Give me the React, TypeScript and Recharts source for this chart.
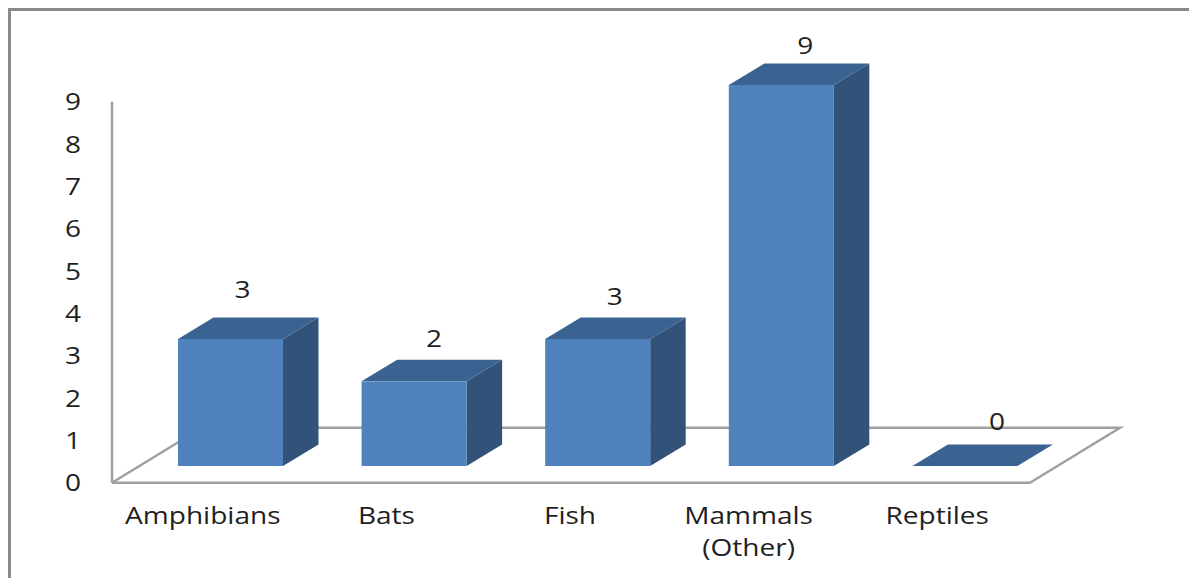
import React from 'react';
import { BarChart, Bar, XAxis, YAxis, LabelList, ReferenceLine } from 'recharts';

const categories = ['Amphibians', 'Bats', 'Fish', 'Mammals (Other)', 'Reptiles'];
const counts = [3, 2, 3, 9, 0];
const yTicks = [0, 1, 2, 3, 4, 5, 6, 7, 8, 9];

const chartData = categories.map((name, i) => ({ name, count: counts[i] }));

const FRONT = '#4f81bd';
const TOP = '#3b6391';
const SIDE = '#325279';
const AXIS = '#a0a0a0';
const TEXT = '#1f1f1f';
const FONT = '"Open Sans", sans-serif';
const FONT_SIZE = 23;
const STRETCH = 1.22; // the original text is stretched sideways

// fake 3D: bars stand inside the floor, not on the axis
const SHIFT_X = 27;
const SHIFT_Y = -16.7;
const DEPTH_X = 35.5;
const DEPTH_Y = 21.5;

// data labels in the original sit a bit unevenly over the bars
const labelNudgeX = [12, 20, 17, 24, 32];
const labelNudgeY = [-50, -43, -43, -40, -45];

const Stretched = ({ x, y, children }: any) => (
  <text
    transform={`translate(${x},${y}) scale(${STRETCH},1)`}
    textAnchor="middle"
    dominantBaseline="central"
    fill={TEXT}
    fontFamily={FONT}
    fontSize={FONT_SIZE}
  >
    {children}
  </text>
);

const Bar3D = (props: any) => {
  const { x, y, width, height } = props;
  const l = x + SHIFT_X;
  const r = l + width;
  const t = y + SHIFT_Y;
  const b = t + height;
  return (
    <g>
      {height > 0 && (
        <polygon
          points={`${r},${t} ${r + DEPTH_X},${t - DEPTH_Y} ${r + DEPTH_X},${b - DEPTH_Y} ${r},${b}`}
          fill={SIDE}
        />
      )}
      <polygon
        points={`${l},${t} ${l + DEPTH_X},${t - DEPTH_Y} ${r + DEPTH_X},${t - DEPTH_Y} ${r},${t}`}
        fill={TOP}
      />
      {height > 0 && <rect x={l} y={t} width={width} height={height} fill={FRONT} />}
    </g>
  );
};

const Floor = (props: any) => {
  const { x1, x2, y1 } = props;
  return (
    <polyline
      points={`${x1},${y1} ${x1 + 90},${y1 - 55} ${x2 + 90},${y1 - 55} ${x2},${y1}`}
      fill="none"
      stroke={AXIS}
      strokeWidth={2.5}
    />
  );
};

const CategoryTick = (props: any) => {
  const { x, y, payload } = props;
  const parts: string[] = payload.value.includes('(') ? payload.value.split(' ') : [payload.value];
  const dx = parts.length > 1 ? -6 : -1;
  return (
    <g>
      {parts.map((p, i) => (
        <Stretched key={p} x={x + dx} y={y + 25 + i * 32}>
          {p}
        </Stretched>
      ))}
    </g>
  );
};

const ValueTick = (props: any) => {
  const { y, payload } = props;
  return (
    <Stretched x={73} y={y}>
      {payload.value}
    </Stretched>
  );
};

const ValueLabel = (props: any) => {
  const { x, y, width, value, index } = props;
  return (
    <Stretched x={x + SHIFT_X + width / 2 + labelNudgeX[index]} y={y + SHIFT_Y + labelNudgeY[index]}>
      {value}
    </Stretched>
  );
};

const App: React.FC = () => {
  return (
    <div style={{ position: 'absolute', left: 0, top: 0, width: 1189, height: 578, background: '#fff', overflow: 'hidden' }}>
      <div
        style={{
          position: 'absolute',
          left: 8,
          top: 8,
          width: 1189,
          height: 578,
          borderLeft: '3px solid #8a8a8a',
          borderTop: '3px solid #8a8a8a',
        }}
      />
      <BarChart
        width={1189}
        height={578}
        data={chartData}
        margin={{ top: 101.7, right: 159, bottom: 0, left: 0 }}
        style={{ position: 'absolute', left: 0, top: 0 }}
      >
        <XAxis
          dataKey="name"
          height={95.3}
          interval={0}
          tick={<CategoryTick />}
          tickLine={false}
          axisLine={{ stroke: AXIS, strokeWidth: 2.5 }}
        />
        <YAxis
          width={112}
          domain={[0, 9]}
          ticks={yTicks}
          interval={0}
          tickLine={false}
          axisLine={{ stroke: AXIS, strokeWidth: 2.5 }}
          tick={<ValueTick />}
        />
        <ReferenceLine y={0} shape={<Floor />} zIndex={-1} isFront={false} />
        <Bar dataKey="count" barSize={105} shape={<Bar3D />} isAnimationActive={false}>
          <LabelList dataKey="count" content={<ValueLabel />} />
        </Bar>
      </BarChart>
    </div>
  );
};

export default App;
